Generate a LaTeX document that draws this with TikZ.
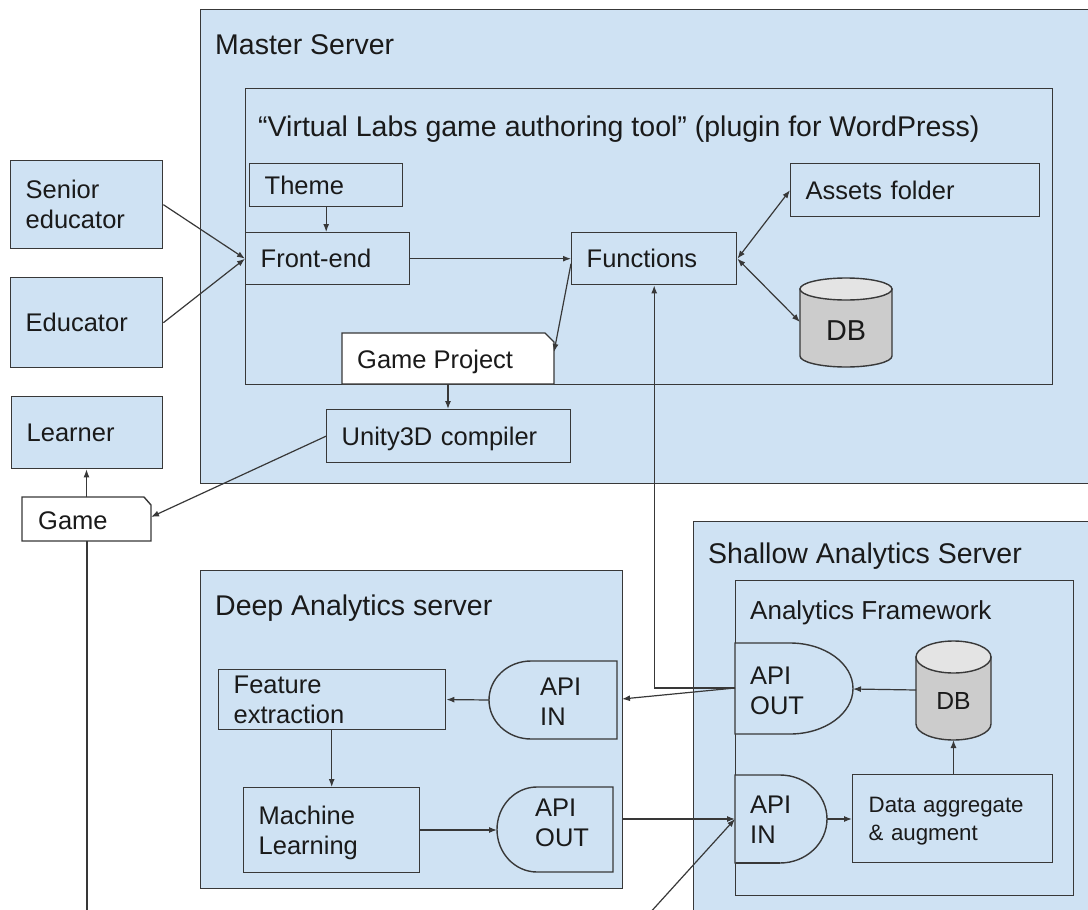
\documentclass[tikz,border=0pt]{standalone}
\usepackage{fontspec}
\setmainfont{Liberation Sans}
\usetikzlibrary{arrows.meta}
\definecolor{lb}{HTML}{CFE2F3}
\definecolor{bd}{HTML}{383838}
\definecolor{dbg}{HTML}{CCCCCC}
\definecolor{dbt}{HTML}{E4E4E4}
\definecolor{txt}{HTML}{1A1A1A}
\newcommand{\fb}{\fontsize{25.5}{30}\selectfont}
\newcommand{\ft}{\fontsize{28.5}{34}\selectfont}
\newcommand{\fs}{\fontsize{22.3}{28}\selectfont}
\newcommand{\sr}{\rule[-5.7pt]{0pt}{29.7pt}}
\newcommand{\srt}{\rule[-6.8pt]{0pt}{34pt}}
\newcommand{\srs}{\rule[-5pt]{0pt}{26pt}}
\begin{document}
\begin{tikzpicture}[x=1pt,y=-1pt,
  every node/.style={text=txt},
  cont/.style={draw=bd, fill=lb, line width=1.4pt, anchor=north west, inner sep=0pt},
  box/.style={draw=bd, fill=lb, line width=1.4pt, anchor=north west, inner xsep=15pt, inner ysep=0pt, font=\fb, align=left},
  lbl/.style={anchor=west, inner sep=0pt, font=\fb, align=left},
  shp/.style={draw=bd, line width=1.4pt},
  arr/.style={draw=bd, line width=1.2pt, -{Latex[length=8pt,width=6pt]}},
  darr/.style={draw=bd, line width=1.2pt, {Latex[length=8pt,width=6pt]}-{Latex[length=8pt,width=6pt]}},
  ln/.style={draw=bd, line width=1.2pt}]
\useasboundingbox (0,0) rectangle (1088,910);
\clip (0,0) rectangle (1088,910);

% ---------- Master server ----------
\node[cont, minimum width=900pt, minimum height=474pt] (master) at (200,9) {};
\node[lbl, font=\ft] (masterT) at (215,44) {\srt Master Server};
\node[cont, minimum width=807pt, minimum height=296pt] (plugin) at (245,88) {};
\node[lbl, font=\ft] (pluginT) at (258,126) {\srt “Virtual Labs game authoring tool” (plugin for WordPress)};

\node[box, minimum width=153pt, minimum height=43pt, text width=123pt] (theme) at (249,163) {\sr Theme};
\node[box, minimum width=164pt, minimum height=52pt, text width=134pt] (front) at (245,232) {\sr Front-end};
\node[box, minimum width=165pt, minimum height=52pt, text width=135pt] (func) at (571,232) {\sr Functions};
\node[box, minimum width=249pt, minimum height=53pt, text width=219pt] (assets) at (790,163) {\sr Assets folder};

% master DB cylinder
\path[shp, fill=dbg] (800,289) -- (800,356) arc[start angle=180, end angle=0, x radius=46, y radius=11] -- (892,289) -- cycle;
\path[shp, fill=dbt] (846,289) ellipse[x radius=46, y radius=11];
\node[font=\fontsize{28.8}{34}\selectfont] (mdb) at (846,331) {DB};
\coordinate (mdbW) at (800,322);

% Game Project (note shape)
\path[shp, fill=white] (342,333) -- (545,333) -- (554,342) -- (554,384) -- (342,384) -- cycle;
\node[lbl] (gp) at (357,359) {\sr Game Project};
\coordinate (gpE) at (554,352);
\coordinate (gpS) at (448,384);

\node[box, minimum width=244pt, minimum height=53pt, text width=214pt] (unity) at (326,409) {\sr Unity3D compiler};

% ---------- Users ----------
\node[box, minimum width=152pt, minimum height=88pt, text width=122pt] (sen) at (10,160) {\sr Senior\\\sr educator};
\node[box, minimum width=152pt, minimum height=90pt, text width=122pt] (edu) at (10,277) {\sr Educator};
\node[box, minimum width=151pt, minimum height=72pt, text width=121pt] (lrn) at (11,396) {\sr Learner};

% Game (note shape)
\path[shp, fill=white] (22,497) -- (144,497) -- (151,505) -- (151,541) -- (22,541) -- cycle;
\node[lbl] (game) at (38,520) {\sr Game};
\coordinate (gameN) at (86.5,497);
\coordinate (gameE) at (151,517);
\coordinate (gameS) at (87,541);
\coordinate (gameEnd) at (87,915);

% ---------- Deep analytics server ----------
\node[cont, minimum width=422pt, minimum height=318pt] (deep) at (200,570) {};
\node[lbl, font=\ft] (deepT) at (215,605) {\srt Deep Analytics server};
\node[box, minimum width=227pt, minimum height=58pt, text width=197pt] (feat) at (218,669) {\sr Feature\\\sr extraction};
\node[box, minimum width=176pt, minimum height=85pt, text width=146pt] (ml) at (243,787) {\sr Machine\\\sr Learning};

\path[shp, fill=lb] (617,661) -- (531,661) arc[start angle=-90, end angle=-270, x radius=42, y radius=39] -- (617,739) -- cycle;
\node[lbl] (dain) at (540,701) {\sr API\\\sr IN};
\coordinate (dainW) at (489,700);

\path[shp, fill=lb] (613,787) -- (537,787) arc[start angle=-90, end angle=-270, x radius=40, y radius=42.5] -- (613,872) -- cycle;
\node[lbl] (daout) at (535,822) {\sr API\\\sr OUT};
\coordinate (daoutW) at (497,830);

% ---------- Shallow analytics server ----------
\node[cont, minimum width=420pt, minimum height=400pt] (shallow) at (693,521) {};
\node[lbl, font=\ft] (shallowT) at (708,553) {\srt Shallow Analytics Server};
\node[cont, minimum width=338pt, minimum height=315pt] (frame) at (735,580) {};
\node[lbl, font=\fontsize{26}{30}\selectfont] (frameT) at (750,610) {\sr Analytics Framework};

\path[shp, fill=lb] (735,643) -- (790,643) arc[start angle=-90, end angle=90, x radius=63, y radius=45.5] -- (735,734) -- cycle;
\node[lbl] (saout) at (750,690) {\sr API\\\sr OUT};
\coordinate (saoutW) at (735,688);
\coordinate (saoutE) at (853,689);

\path[shp, fill=lb] (735,775) -- (780,775) arc[start angle=-90, end angle=90, x radius=47, y radius=44] -- (735,863) -- cycle;
\draw[bd, line width=2.4pt] (736,863) -- (780,863);
\node[lbl] (sain) at (750,819) {\sr API\\\sr IN};
\coordinate (sainW) at (735,819);
\coordinate (sainE) at (827,819);

% shallow DB
\path[shp, fill=dbg] (916,657) -- (916,724) arc[start angle=180, end angle=0, x radius=37.5, y radius=16] -- (991,657) -- cycle;
\path[shp, fill=dbt] (953.5,657) ellipse[x radius=37.5, y radius=16];
\node[font=\fontsize{24.7}{30}\selectfont] (sdb) at (953.5,701) {DB};
\coordinate (sdbW) at (916,690);
\coordinate (sdbS) at (953.5,740);

\node[box, inner xsep=16pt, font=\fs, minimum width=200pt, minimum height=88pt, text width=168pt] (data) at (852,774) {\srs Data aggregate\\\srs \& augment};

\coordinate (freeB) at (648,915);
\coordinate (dinR) at (622,699);

% ---------- connectors ----------
\draw[arr] (theme.south) -- (theme.south |- front.north);
\draw[arr] (sen.east) -- (front.west);
\draw[arr] (edu.east) -- (front.west);
\draw[arr] (front.east) -- (func.west);
\draw[arr] ([yshift=-5pt]func.west) -- (gpE);
\draw[darr] (func.east) -- (assets.west);
\draw[darr] (func.east) -- (mdbW);
\draw[arr] (gpS) -- (gpS |- unity.north);
\draw[arr] (unity.west) -- (gameE);
\draw[arr] (gameN) -- (gameN |- lrn.south);
\draw[ln] (gameS) -- (gameEnd);

\draw[arr] (saoutW) -| (func.south);
\draw[arr] (saoutW) -- (dinR);
\draw[arr] (dainW) -- (feat.east);
\draw[arr] (ml.north |- feat.south) -- (ml.north);
\draw[arr] (ml.east |- daoutW) -- (daoutW);
\draw[arr] (deep.east |- sainW) -- (sainW);
\draw[arr] (freeB) -- (sainW);
\draw[arr] (sainE) -- (data.west |- sainE);
\draw[arr] (data.north -| sdbS) -- (sdbS);
\draw[arr] (sdbW) -- (saoutE);
\end{tikzpicture}
\end{document}
